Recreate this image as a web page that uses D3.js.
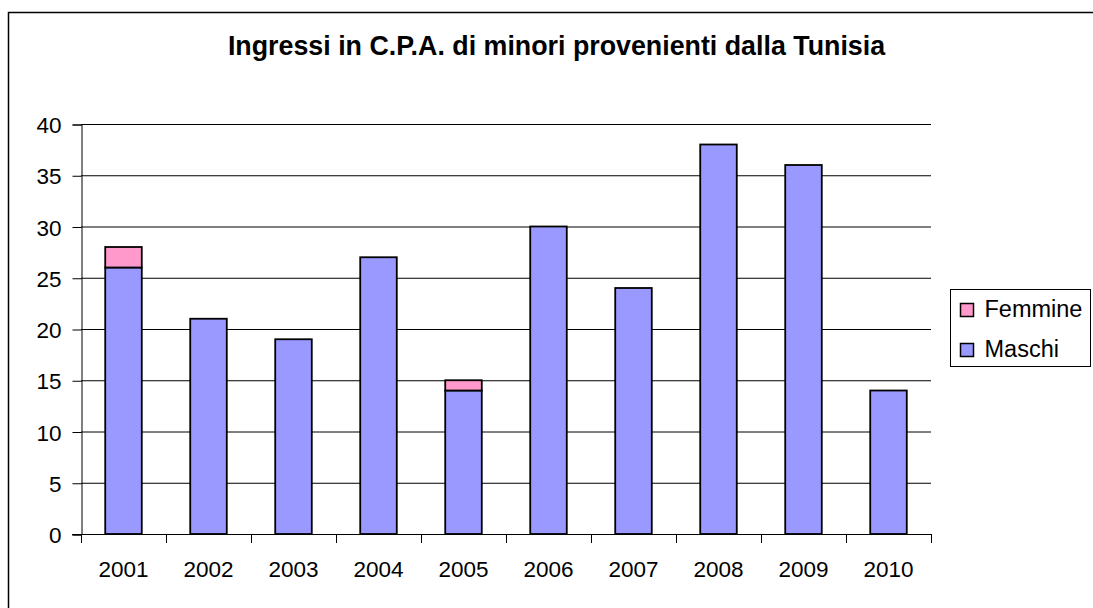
<!DOCTYPE html>
<html lang="it">
<head>
<meta charset="UTF-8">
<title>Ingressi in C.P.A.</title>
<script src="https://d3js.org/d3.v7.min.js"></script>
<style>
  body { margin: 0; background: #fff; }
  text { font-family: "Liberation Sans", Arial, sans-serif; fill: #000; }
</style>
</head>
<body>
<div id="chart"></div>
<script>
// dati
const anni = ["2001", "2002", "2003", "2004", "2005", "2006", "2007", "2008", "2009", "2010"];
const maschi = [26, 21, 19, 27, 14, 30, 24, 38, 36, 14];
const femmine = [2, 0, 0, 0, 1, 0, 0, 0, 0, 0];
const serie = ["Maschi", "Femmine"];
const colori = { Maschi: "#9999FF", Femmine: "#FF99CC" };
const yTicks = [0, 5, 10, 15, 20, 25, 30, 35, 40];

const W = 1093, H = 608;
const plot = { left: 81, right: 931, top: 124, bottom: 534 };

const svg = d3.select("#chart").append("svg")
  .attr("width", W).attr("height", H);

// cornice esterna (bordo destro e inferiore fuori dall'immagine)
svg.append("rect")
  .attr("x", 8.5).attr("y", 12.5)
  .attr("width", W + 20).attr("height", H + 20)
  .attr("fill", "#fff").attr("stroke", "#000").attr("stroke-width", 1.5);

svg.append("text")
  .attr("x", 556.5).attr("y", 55)
  .attr("text-anchor", "middle")
  .style("font-size", "26.8px").style("font-weight", "bold")
  .text("Ingressi in C.P.A. di minori provenienti dalla Tunisia");

const x = d3.scaleBand().domain(anni).range([plot.left, plot.right]).paddingInner(0).paddingOuter(0);
const y = d3.scaleLinear().domain([0, 40]).range([plot.bottom, plot.top]);

// griglia
svg.append("g").selectAll("line").data(yTicks.filter(d => d > 0)).join("line")
  .attr("x1", plot.left).attr("x2", plot.right)
  .attr("y1", d => y(d) + 0.5).attr("y2", d => y(d) + 0.5)
  .attr("stroke", "#000").attr("stroke-width", 1);

// dati impilati
const righe = anni.map((a, i) => ({ anno: a, Maschi: maschi[i], Femmine: femmine[i] }));
const stack = d3.stack().keys(serie)(righe);
const barW = x.bandwidth() * 0.43;

svg.append("g").selectAll("g").data(stack).join("g")
  .attr("fill", d => colori[d.key])
  .selectAll("rect").data(d => d.filter(p => p[1] > p[0])).join("rect")
  .attr("x", d => x(d.data.anno) + (x.bandwidth() - barW) / 2)
  .attr("width", barW)
  .attr("y", d => y(d[1]))
  .attr("height", d => y(d[0]) - y(d[1]))
  .attr("stroke", "#000").attr("stroke-width", 1.8);

// asse y
const yAxis = d3.axisLeft(y).tickValues(yTicks).tickSize(9).tickPadding(11);
const gy = svg.append("g").attr("transform", `translate(${plot.left + 0.5},0.5)`).call(yAxis);
gy.selectAll("text").style("font-size", "22.5px").attr("dy", "0.36em");

// asse x
const xAxis = d3.axisBottom(x).tickSize(0).tickPadding(20);
const gx = svg.append("g").attr("transform", `translate(0,${plot.bottom + 0.5})`).call(xAxis);
gx.select(".domain").attr("d", `M${plot.left - 9},0H${plot.right}`);
gx.selectAll("text").style("font-size", "22.5px").attr("dy", "0.71em").attr("y", 27);
// tacche tra le categorie
svg.append("g").selectAll("line").data(anni.concat(["end"])).join("line")
  .attr("x1", (d, i) => plot.left + i * x.bandwidth() + 0.5)
  .attr("x2", (d, i) => plot.left + i * x.bandwidth() + 0.5)
  .attr("y1", plot.bottom).attr("y2", plot.bottom + 9)
  .attr("stroke", "#000");

[gx, gy].forEach(g => g.selectAll("path, line").attr("stroke", "#000"));

// legenda
const leg = svg.append("g").attr("transform", "translate(950.5,289.5)");
leg.append("rect").attr("width", 140).attr("height", 77)
  .attr("fill", "#fff").attr("stroke", "#000").attr("stroke-width", 1);
const voci = ["Femmine", "Maschi"];
voci.forEach((s, i) => {
  const base = 27 + i * 40;
  leg.append("rect").attr("x", 10).attr("y", base - 13).attr("width", 13).attr("height", 13)
    .attr("fill", colori[s]).attr("stroke", "#000").attr("stroke-width", 1.5);
  leg.append("text").attr("x", 34).attr("y", base)
    .style("font-size", "23.5px").text(s);
});
</script>
</body>
</html>
